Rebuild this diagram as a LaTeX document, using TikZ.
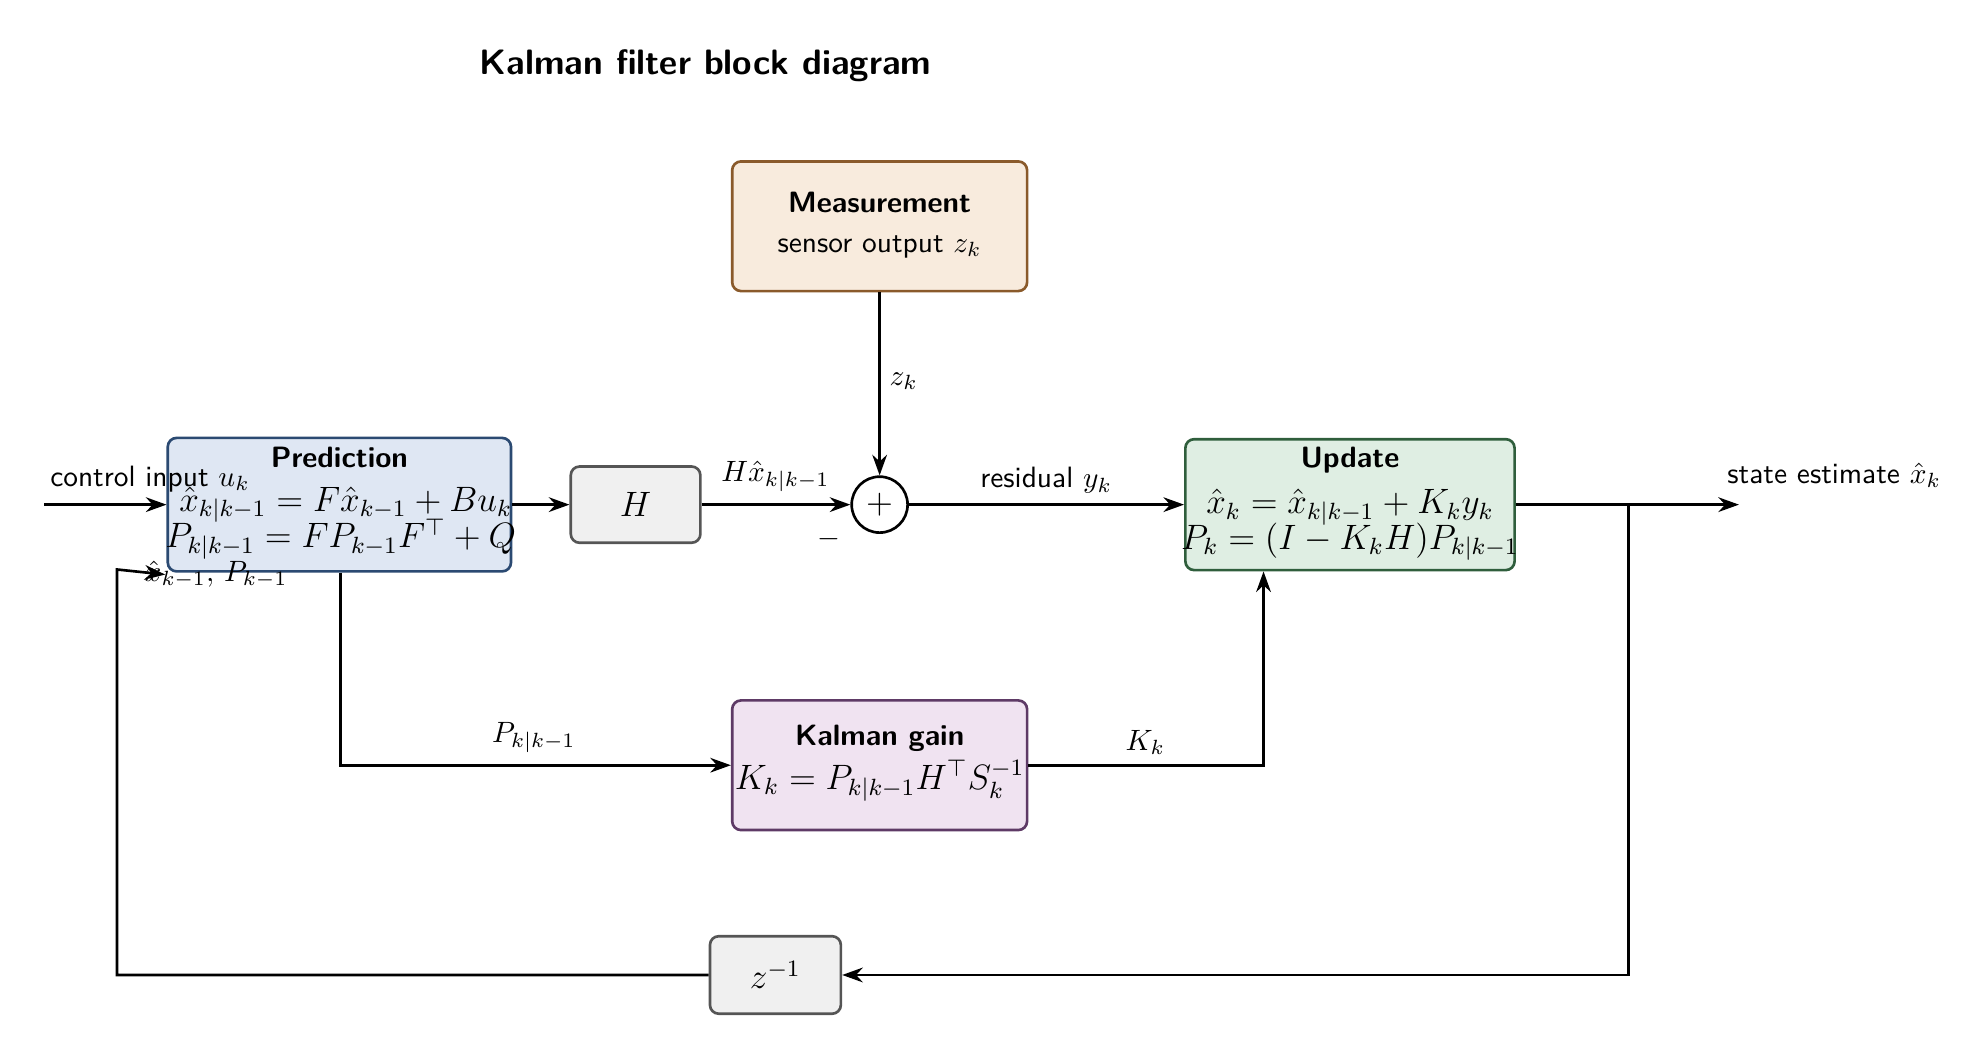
\documentclass[tikz,border=0pt]{standalone}
\usetikzlibrary{arrows.meta}
\begin{document}
\begin{tikzpicture}[x=0.0152cm,y=-0.0152cm,
  font=\sffamily,
  box/.style={draw,rounded corners=3pt,line width=0.9pt,align=center,inner sep=2pt},
  wire/.style={line width=0.9pt,-{Stealth[length=7pt,width=5pt]}},
  line/.style={line width=0.9pt}]
\useasboundingbox (0,0) rectangle (1560,829);
\definecolor{pf}{HTML}{DFE7F3}\definecolor{pd}{HTML}{2B4A72}
\definecolor{mf}{HTML}{F8EBDD}\definecolor{md}{HTML}{8A5A2B}
\definecolor{uf}{HTML}{DFEEE3}\definecolor{ud}{HTML}{2F5E3C}
\definecolor{kf}{HTML}{F0E3F1}\definecolor{kd}{HTML}{5E3A66}
\definecolor{gf}{HTML}{F0F0F0}\definecolor{gd}{HTML}{555555}
\node[font=\sffamily\bfseries\large] (title) at (555,52) {Kalman filter block diagram};
\node[box,fill=mf,draw=md,minimum width=232*0.0152cm,minimum height=102*0.0152cm] (meas) at (692,178) {};
\node[font=\sffamily\bfseries] (measT) at (692,159) {Measurement};
\node[font=\sffamily] (measS) at (692,194) {sensor output $z_k$};
\node[box,fill=pf,draw=pd,minimum width=270*0.0152cm,minimum height=105*0.0152cm] (pred) at (267,397) {};
\node[font=\sffamily\bfseries] (predT) at (267,360) {Prediction};
\node[font=\large] (predA) at (272,397) {$\hat x_{k|k-1}=F\hat x_{k-1}+Bu_k$};
\node[font=\large] (predB) at (268,424) {$P_{k|k-1}=FP_{k-1}F^{\top}+Q$};
\node[box,fill=gf,draw=gd,minimum width=102*0.0152cm,minimum height=60*0.0152cm,font=\large] (H) at (500,397) {$H$};
\node[draw,circle,line width=0.9pt,fill=white,minimum size=44*0.0152cm,inner sep=0pt,font=\large] (sum) at (692,397) {$+$};
\node[box,fill=uf,draw=ud,minimum width=259*0.0152cm,minimum height=103*0.0152cm] (upd) at (1062,397) {};
\node[font=\sffamily\bfseries] (updT) at (1062,362) {Update};
\node[font=\large] (updA) at (1062,399) {$\hat x_k=\hat x_{k|k-1}+K_ky_k$};
\node[font=\large] (updB) at (1062,426) {$P_k=(I-K_kH)P_{k|k-1}$};
\node[box,fill=kf,draw=kd,minimum width=232*0.0152cm,minimum height=102*0.0152cm] (kg) at (692,602) {};
\node[font=\sffamily\bfseries] (kgT) at (692,581) {Kalman gain};
\node[font=\large] (kgA) at (692,614) {$K_k=P_{k|k-1}H^{\top}S_k^{-1}$};
\node[box,fill=gf,draw=gd,minimum width=103*0.0152cm,minimum height=61*0.0152cm,font=\large] (zi) at (610,767) {$z^{-1}$};
\coordinate (in) at (35,397);
\coordinate (out) at (1368,397);
\coordinate (br) at (1281,397);
\coordinate (brd) at (1281,767);
\coordinate (fb1) at (92,767);
\coordinate (fb2) at (92,448);
\coordinate (fbe) at (130,452);
\coordinate (pd) at (268,602);
\coordinate (kr) at (994,602);
\draw[wire] (in) -- (pred.west);
\node (lin) at (118,377) {control input $u_k$};
\draw[wire] (pred.east) -- (H.west);
\draw[wire] (H.east) -- (sum.west);
\node (lH) at (610,375) {$H\hat x_{k|k-1}$};
\node (lm) at (652,424) {$-$};
\draw[wire] (meas.south) -- (sum.north);
\node (lz) at (711,300) {$z_k$};
\draw[wire] (sum.east) -- (upd.west);
\node (lr) at (823,378) {residual $y_k$};
\draw[wire] (upd.east) -- (out);
\node (lo) at (1443,374) {state estimate $\hat x_k$};
\draw[wire] (br) -- (brd) -- (zi.east);
\draw[wire] (zi.west) -- (fb1) -- (fb2) -- (fbe);
\node (lfb) at (170,452) {$\hat x_{k-1},\,P_{k-1}$};
\draw[wire] (pred.south -| pd) -- (pd) -- (kg.west);
\node (lp) at (420,580) {$P_{k|k-1}$};
\draw[wire] (kg.east) -- (kr) -- (upd.south -| kr);
\node (lk) at (901,584) {$K_k$};
\end{tikzpicture}
\end{document}
